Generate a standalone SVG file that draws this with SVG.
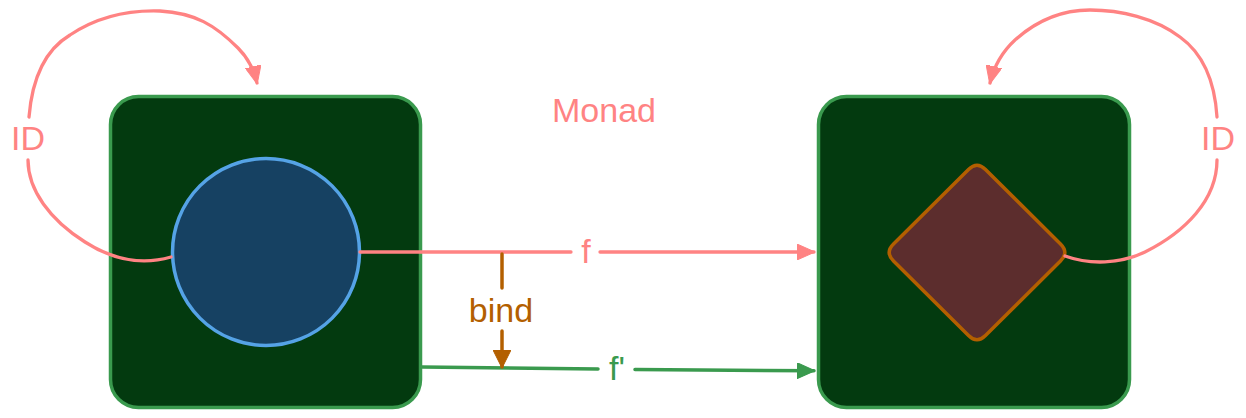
<svg xmlns="http://www.w3.org/2000/svg" width="1246" height="418" viewBox="0 0 1246 418">
<style>
.box{fill:#033a0f;stroke:#3a9a4e;stroke-width:3.5}
.pink{fill:none;stroke:#ff8383;stroke-width:3.3;stroke-linecap:round}
.green{fill:none;stroke:#3a9a4e;stroke-width:3.5;stroke-linecap:round}
.orange{fill:none;stroke:#b35f00;stroke-width:3.5;stroke-linecap:round}
.lbl{font-family:"Liberation Sans",Arial,sans-serif;font-size:34px;text-anchor:middle}
</style>
<defs>
<marker id="ahPink" viewBox="0 0 18 16" refX="17" refY="8" markerWidth="18" markerHeight="16" markerUnits="userSpaceOnUse" orient="auto"><path d="M0,0 L18,8 L0,16 Z" fill="#ff8383" stroke="#ff8383" stroke-width="1" stroke-linejoin="round"/></marker>
<marker id="ahGreen" viewBox="0 0 18 16" refX="17" refY="8" markerWidth="18" markerHeight="16" markerUnits="userSpaceOnUse" orient="auto"><path d="M0,0 L18,8 L0,16 Z" fill="#3a9a4e" stroke="#3a9a4e" stroke-width="1" stroke-linejoin="round"/></marker>
<marker id="ahOrange" viewBox="0 0 18 18" refX="17" refY="9" markerWidth="18" markerHeight="18" markerUnits="userSpaceOnUse" orient="auto"><path d="M0,0 L18,9 L0,18 Z" fill="#b35f00" stroke="#b35f00" stroke-width="1" stroke-linejoin="round"/></marker>
</defs>
<rect width="1246" height="418" fill="#ffffff"/>
<g id="node-left">
<rect class="box" x="110.5" y="96.5" width="310" height="311" rx="28"/>
<circle cx="266" cy="252" r="93.5" fill="#164162" stroke="#55a3e6" stroke-width="3.5"/>
</g>
<g id="node-right">
<rect class="box" x="818.5" y="96.5" width="311" height="311" rx="28"/>
<path d="M968.5,169.5 Q977,161 985.5,169.5 L1060.5,244 Q1069,252.5 1060.5,261 L985.5,335.5 Q977,344 968.5,335.5 L893.5,261 Q885,252.5 893.5,244 Z" fill="#5c2d2d" stroke="#b35f00" stroke-width="3.5" stroke-linejoin="round"/>
</g>
<g id="title">
<text x="604" y="122" font-family="'Liberation Sans',Arial,sans-serif" font-size="34" fill="#ff8383" text-anchor="middle">Monad</text>
</g>
<g id="connectors">
<path class="pink" d="M171,257 C140,266 110,258 85,242 C50,220 28,190 28,160"/>
<path class="pink" d="M29,117 C32,80 45,50 70,35 C100,15 130,10 160,11 C195,13 215,25 238,48 C248,58 254,70 257,83" marker-end="url(#ahPink)"/>
<path class="pink" d="M1065,256 C1090,265 1120,264 1145,252 C1185,232 1217,200 1217,160"/>
<path class="pink" d="M1217,117 C1215,85 1205,55 1180,37 C1155,18 1120,10 1090,10 C1060,10 1035,22 1015,40 C1002,52 994,66 990,83" marker-end="url(#ahPink)"/>
<path class="pink" d="M360,252 L571,252"/>
<path class="pink" d="M600,252 L814,252" marker-end="url(#ahPink)"/>
<path class="green" d="M422,367 L598,369"/>
<path class="green" d="M635,369.6 L814,370.8" marker-end="url(#ahGreen)"/>
<path class="orange" d="M502,254 L502,288"/>
<path class="orange" d="M502,331 L502,367" marker-end="url(#ahOrange)"/>
<text class="lbl" x="28" y="150" fill="#ff8383">ID</text>
<text class="lbl" x="1218" y="150" fill="#ff8383">ID</text>
<text class="lbl" x="586" y="263" fill="#ff8383">f</text>
<text class="lbl" x="617" y="380" fill="#3a9a4e">f'</text>
<text class="lbl" x="501" y="322" fill="#b35f00" font-size="35">bind</text>
</g>
</svg>
